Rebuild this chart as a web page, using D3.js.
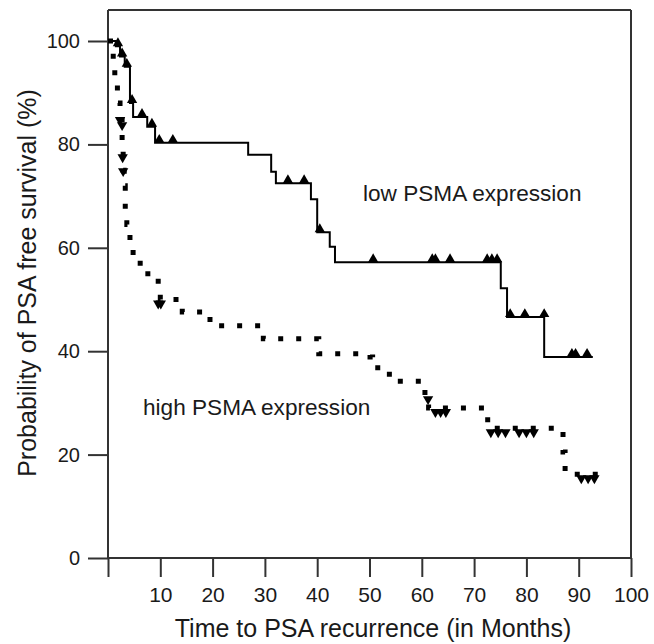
<!DOCTYPE html>
<html><head><meta charset="utf-8">
<script src="https://cdn.jsdelivr.net/npm/d3@7/dist/d3.min.js"></script>
<style>body{margin:0;background:#fff}svg{display:block}text{font-family:"Liberation Sans",Arial,Helvetica,sans-serif;fill:#1a1a1a}</style>
</head><body>
<svg id="c" width="654" height="644"></svg>
<script>
// ---- data ----
const xTicks = [0, 10, 20, 30, 40, 50, 60, 70, 80, 90, 100];
const xTickLabels = ["", "10", "20", "30", "40", "50", "60", "70", "80", "90", "100"];
const yTicks = [0, 20, 40, 60, 80, 100];
const yTickLabels = ["0", "20", "40", "60", "80", "100"];

// low PSMA expression: Kaplan-Meier step points (time in months, survival %)
const lowTimes = [0, 1.5, 2.3, 3.2, 4.2, 4.8, 7.5, 9.0, 26.8, 31.2, 32.1, 38.8, 40.0, 42.4, 43.4, 75.1, 76.3, 83.4, 92.7];
const lowSurv  = [100, 99, 97, 95, 88, 85.3, 83.4, 80.3, 78.0, 74.7, 72.5, 69.4, 63.0, 60.2, 57.2, 52.2, 46.6, 38.9, 38.9];
const lowCensorTimes = [1.9, 2.7, 3.6, 4.6, 6.5, 8.4, 9.8, 12.4, 34.4, 37.5, 40.5, 50.7, 62.0, 62.6, 65.4, 72.5, 73.4, 74.4, 76.9, 79.7, 83.4, 88.7, 89.4, 91.6];
const lowCensorSurv  = [99, 97, 95, 88, 85.3, 83.4, 80.3, 80.3, 72.5, 72.5, 63.0, 57.2, 57.2, 57.2, 57.2, 57.2, 57.2, 57.2, 46.6, 46.6, 46.6, 38.9, 38.9, 38.9];

// high PSMA expression
const highTimes = [0, 1.0, 1.3, 1.8, 2.3, 2.7, 2.9, 3.1, 3.3, 3.6, 4.2, 4.8, 7.0, 9.6, 10.0, 14.2, 19.5, 29.7, 40.3, 50.1, 50.6, 53.8, 60.6, 61.3, 72.6, 87.0, 87.4, 94.0];
const highSurv  = [100, 96, 92, 88, 85.5, 80, 75, 72, 67.5, 64.5, 60, 57, 55, 52.5, 50, 47.6, 44.9, 42.4, 39.5, 38.9, 36.8, 34.2, 31.5, 29.0, 25.1, 20.5, 16.2, 16.2];
const highCensorTimes = [2.3, 2.7, 2.8, 2.9, 9.6, 10.1, 61.2, 62.6, 63.6, 64.6, 73.2, 74.6, 76.0, 78.6, 80.0, 81.4, 90.5, 91.8, 93.0];
const highCensorSurv  = [85.5, 84.5, 78.3, 75.6, 50, 50, 31.5, 29.0, 29.0, 29.0, 25.1, 25.1, 25.1, 25.1, 25.1, 25.1, 16.2, 16.2, 16.2];

const lowLabel = "low PSMA expression";
const highLabel = "high PSMA expression";
const xTitle = "Time to PSA recurrence (in Months)";
const yTitle = "Probability of PSA free survival (%)";

// ---- drawing ----
const svg = d3.select("#c");
const L = 108, R = 631, T = 10, B = 558;
const x = d3.scaleLinear().domain([0, 100]).range([L, R]);
const y = d3.scaleLinear().domain([0, 100]).range([B, 41]);
const axisColor = "#333";
const font = "Liberation Sans, Arial, sans-serif";

// frame
const frame = svg.append("g").attr("stroke", axisColor).attr("stroke-width", 2).attr("fill", "none");
frame.append("line").attr("x1", L).attr("x2", R).attr("y1", T).attr("y2", T);
frame.append("line").attr("x1", L).attr("x2", L).attr("y1", T).attr("y2", B);
frame.append("line").attr("x1", R).attr("x2", R).attr("y1", T).attr("y2", B);
frame.append("line").attr("x1", L).attr("x2", R).attr("y1", B).attr("y2", B);

// y axis
const yAx = svg.append("g").attr("transform", `translate(${L},0)`)
  .call(d3.axisLeft(y).tickValues(yTicks).tickSize(20).tickPadding(8)
    .tickFormat((d, i) => yTickLabels[i]));
yAx.select(".domain").remove();
yAx.selectAll(".tick line").attr("stroke", axisColor).attr("stroke-width", 2);
yAx.selectAll(".tick text").attr("font-size", 20).attr("font-family", font).attr("fill", "#1a1a1a");

// x axis
const xAx = svg.append("g").attr("transform", `translate(0,${B})`)
  .call(d3.axisBottom(x).tickValues(xTicks).tickSize(19).tickPadding(10)
    .tickFormat((d, i) => xTickLabels[i]));
xAx.select(".domain").remove();
xAx.selectAll(".tick line").attr("stroke", axisColor).attr("stroke-width", 2);
xAx.selectAll(".tick text").attr("font-size", 21).attr("font-family", font).attr("fill", "#1a1a1a");

// curves
const stepLine = d3.line().x(d => x(d[0])).y(d => y(d[1])).curve(d3.curveStepAfter);
const lowData = lowTimes.map((t, i) => [t, lowSurv[i]]);
const highData = highTimes.map((t, i) => [t, highSurv[i]]);

svg.append("path").attr("d", stepLine(highData)).attr("fill", "none")
  .attr("stroke", "#000").attr("stroke-width", 5).attr("stroke-dasharray", "5,13");
svg.append("path").attr("d", stepLine(lowData)).attr("fill", "none")
  .attr("stroke", "#000").attr("stroke-width", 2);

// censor marks
const tri = d3.symbol().type(d3.symbolTriangle).size(46);
svg.append("g").selectAll("path").data(lowCensorTimes.map((t, i) => [t, lowCensorSurv[i]]))
  .join("path").attr("d", tri).attr("fill", "#000")
  .attr("transform", d => `translate(${x(d[0])},${y(d[1]) - 3})`);
svg.append("g").selectAll("path").data(highCensorTimes.map((t, i) => [t, highCensorSurv[i]]))
  .join("path").attr("d", tri).attr("fill", "#000")
  .attr("transform", d => `translate(${x(d[0])},${y(d[1]) + 4}) rotate(180)`);

// labels
svg.append("text").attr("x", 363).attr("y", 201).attr("font-size", 22.6).text(lowLabel);
svg.append("text").attr("x", 143).attr("y", 415).attr("font-size", 22.6).text(highLabel);

svg.append("text").attr("x", 373).attr("y", 637).attr("text-anchor", "middle").attr("font-size", 25).text(xTitle);
svg.append("text").attr("transform", "translate(36,283) rotate(-90)").attr("text-anchor", "middle").attr("font-size", 25).text(yTitle);
</script>
</body></html>
